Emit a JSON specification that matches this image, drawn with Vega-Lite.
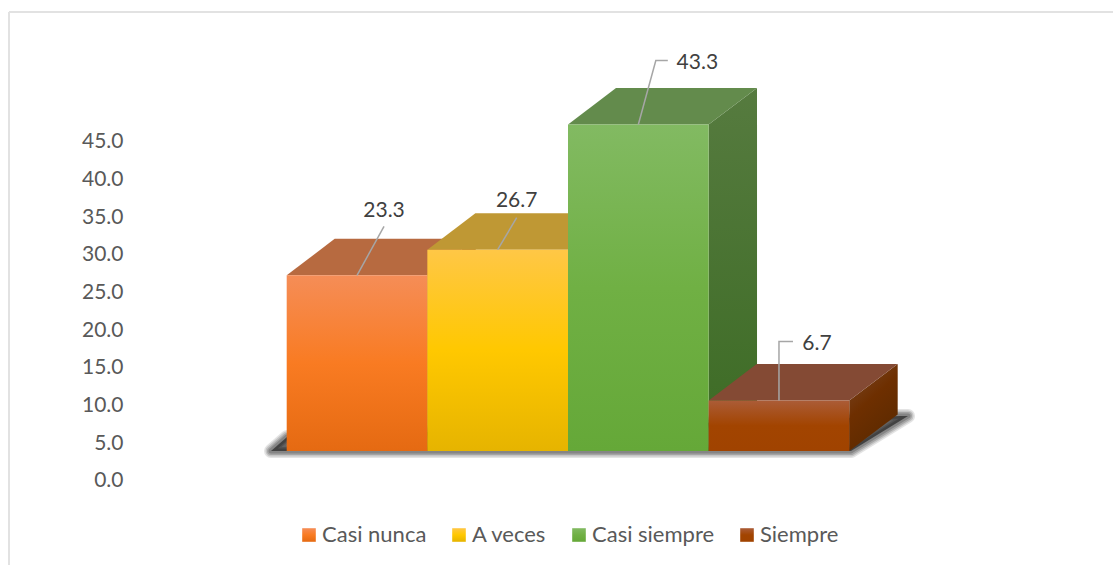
{"$schema":"https://vega.github.io/schema/vega-lite/v6.json","width":1104,"height":553,"autosize":"none","padding":{"left":9,"top":12,"right":0,"bottom":0},"background":"white","config":{"view":{"stroke":null},"font":"Lato"},
"data":{"values":[{"categoria":"Casi nunca","valor":23.3},{"categoria":"A veces","valor":26.7},{"categoria":"Casi siempre","valor":43.3},{"categoria":"Siempre","valor":6.7}]},
"resolve":{"scale":{"fill":"independent","shape":"independent"}},
"layer":[
{"mark":{"type":"rule","color":"#E2E2E2","strokeWidth":1.5},"encoding":{"x":{"value":0}}},
{"mark":{"type":"rule","color":"#E2E2E2","strokeWidth":1.5},"encoding":{"y":{"value":0}}},
{"transform":[{"filter":"datum.categoria==='Casi nunca'"}],"mark":{"type":"point","filled":false,"size":4,"opacity":0.1,"stroke":"#000","strokeWidth":14,"strokeJoin":"round","yOffset":-28.5,"shape":"M-86,0 L-70,-14 L543,-35 L551,-35 L494,0 Z"},"encoding":{"x":{"field":"categoria","type":"nominal","sort":null,"axis":null,"scale":{"domain":["Casi nunca","A veces","Casi siempre","Siempre"],"range":[277.7,840.3],"paddingInner":0,"paddingOuter":0}},"y":{"datum":0,"type":"quantitative","scale":{"domain":[-11.34,62],"nice":false,"zero":false}}}},
{"transform":[{"filter":"datum.categoria==='Casi nunca'"}],"mark":{"type":"point","filled":false,"size":4,"opacity":0.13,"stroke":"#000","strokeWidth":11,"strokeJoin":"round","yOffset":-28.5,"shape":"M-86,0 L-70,-14 L543,-35 L551,-35 L494,0 Z"},"encoding":{"x":{"field":"categoria","type":"nominal","sort":null,"axis":null,"scale":{"domain":["Casi nunca","A veces","Casi siempre","Siempre"],"range":[277.7,840.3],"paddingInner":0,"paddingOuter":0}},"y":{"datum":0,"type":"quantitative","scale":{"domain":[-11.34,62],"nice":false,"zero":false}}}},
{"transform":[{"filter":"datum.categoria==='Casi nunca'"}],"mark":{"type":"point","filled":false,"size":4,"opacity":0.16,"stroke":"#000","strokeWidth":8,"strokeJoin":"round","yOffset":-28.5,"shape":"M-86,0 L-70,-14 L543,-35 L551,-35 L494,0 Z"},"encoding":{"x":{"field":"categoria","type":"nominal","sort":null,"axis":null,"scale":{"domain":["Casi nunca","A veces","Casi siempre","Siempre"],"range":[277.7,840.3],"paddingInner":0,"paddingOuter":0}},"y":{"datum":0,"type":"quantitative","scale":{"domain":[-11.34,62],"nice":false,"zero":false}}}},
{"transform":[{"filter":"datum.categoria==='Casi nunca'"}],"mark":{"type":"point","filled":false,"size":4,"opacity":0.18,"stroke":"#000","strokeWidth":5,"strokeJoin":"round","yOffset":-28.5,"shape":"M-86,0 L-70,-14 L543,-35 L551,-35 L494,0 Z"},"encoding":{"x":{"field":"categoria","type":"nominal","sort":null,"axis":null,"scale":{"domain":["Casi nunca","A veces","Casi siempre","Siempre"],"range":[277.7,840.3],"paddingInner":0,"paddingOuter":0}},"y":{"datum":0,"type":"quantitative","scale":{"domain":[-11.34,62],"nice":false,"zero":false}}}},
{"transform":[{"filter":"datum.categoria==='Casi nunca'"}],"mark":{"type":"point","filled":true,"size":4,"opacity":0.5,"fill":"#000","strokeWidth":0,"yOffset":-28.5,"shape":"M-86,0 L-70,-14 L543,-35 L551,-35 L494,0 Z"},"encoding":{"x":{"field":"categoria","type":"nominal","sort":null,"axis":null,"scale":{"domain":["Casi nunca","A veces","Casi siempre","Siempre"],"range":[277.7,840.3],"paddingInner":0,"paddingOuter":0}},"y":{"datum":0,"type":"quantitative","scale":{"domain":[-11.34,62],"nice":false,"zero":false}}}},
{"mark":{"type":"point","filled":true,"size":4,"opacity":1,"strokeWidth":0,"yOffset":-28.5},"encoding":{"x":{"field":"categoria","type":"nominal","sort":null,"axis":null,"scale":{"domain":["Casi nunca","A veces","Casi siempre","Siempre"],"range":[277.7,840.3],"paddingInner":0,"paddingOuter":0}},"y":{"field":"valor","type":"quantitative","scale":{"domain":[-11.34,62],"nice":false,"zero":false}},
"shape":{"field":"categoria","type":"nominal","sort":null,"legend":null,"scale":{"domain":["Casi nunca","A veces","Casi siempre","Siempre"],"range":["M70.3,0 L118.7,-36.5 L118.7,139.2 L70.3,175.7 Z","M70.3,0 L118.7,-36.5 L118.7,164.8 L70.3,201.3 Z","M70.3,0 L118.7,-36.5 L118.7,290 L70.3,326.5 Z","M70.3,0 L118.7,-36.5 L118.7,14 L70.3,50.5 Z"]}},
"fill":{"field":"categoria","type":"nominal","sort":null,"legend":null,"scale":{"domain":["Casi nunca","A veces","Casi siempre","Siempre"],"range":[
{"expr":"{gradient:'linear',x1:0,y1:0,x2:1,y2:1,stops:[{offset:0,color:'#A0562A'},{offset:1,color:'#99470D'}]}"},
{"expr":"{gradient:'linear',x1:0,y1:0,x2:1,y2:1,stops:[{offset:0,color:'#A88530'},{offset:1,color:'#A07C00'}]}"},
{"expr":"{gradient:'linear',x1:0,y1:0,x2:0,y2:1,stops:[{offset:0,color:'#567B3F'},{offset:1,color:'#3C6B24'}]}"},
{"expr":"{gradient:'linear',x1:0,y1:0,x2:0.5,y2:1,stops:[{offset:0,color:'#7A4A2C'},{offset:0.5,color:'#6E2F00'},{offset:1,color:'#5C2A00'}]}"}]}}}},
{"mark":{"type":"point","filled":true,"size":4,"opacity":1,"strokeWidth":0,"yOffset":-28.5,"shape":"M-70.3,0 L70.3,0 L118.7,-36.5 L-22.3,-36.5 Z"},"encoding":{"x":{"field":"categoria","type":"nominal","sort":null,"axis":null,"scale":{"domain":["Casi nunca","A veces","Casi siempre","Siempre"],"range":[277.7,840.3],"paddingInner":0,"paddingOuter":0}},"y":{"field":"valor","type":"quantitative","scale":{"domain":[-11.34,62],"nice":false,"zero":false}},
"fill":{"field":"categoria","type":"nominal","sort":null,"legend":null,"scale":{"domain":["Casi nunca","A veces","Casi siempre","Siempre"],"range":["#B76A40","#BF9834","#638B4C","#844A34"]}}}},
{"mark":{"type":"bar","yOffset":-28.5,"y2Offset":-28.5},"encoding":{"x":{"field":"categoria","type":"nominal","sort":null,"axis":null,"scale":{"domain":["Casi nunca","A veces","Casi siempre","Siempre"],"range":[277.7,840.3],"paddingInner":0,"paddingOuter":0}},"y":{"field":"valor","type":"quantitative","stack":null,"scale":{"domain":[-11.34,62],"nice":false,"zero":false},"axis":{"title":null,"values":[0,5,10,15,20,25,30,35,40,45],"format":".1f","domain":false,"ticks":false,"grid":false,"labelPadding":0,"offset":-114,"labelOffset":1.5,"labelFont":"Lato","labelFontSize":21,"labelColor":"#595959"}},"y2":{"datum":0},
"fill":{"field":"categoria","type":"nominal","sort":null,"scale":{"domain":["Casi nunca","A veces","Casi siempre","Siempre"],"range":[
{"expr":"{gradient:'linear',x1:0,y1:0,x2:0,y2:1,stops:[{offset:0,color:'#F58D57'},{offset:0.5,color:'#F97B22'},{offset:1,color:'#E56A12'}]}"},
{"expr":"{gradient:'linear',x1:0,y1:0,x2:0,y2:1,stops:[{offset:0,color:'#FFC746'},{offset:0.5,color:'#FFC800'},{offset:1,color:'#E6B400'}]}"},
{"expr":"{gradient:'linear',x1:0,y1:0,x2:0,y2:1,stops:[{offset:0,color:'#82BA62'},{offset:0.5,color:'#70B044'},{offset:1,color:'#65A838'}]}"},
{"expr":"{gradient:'linear',x1:0,y1:0,x2:0,y2:1,stops:[{offset:0,color:'#AB5C37'},{offset:0.5,color:'#A24400'},{offset:1,color:'#A04300'}]}"}]},
"legend":{"title":null,"orient":"none","legendX":289,"legendY":512,"direction":"horizontal","columns":4,"padding":0,"symbolType":"square","symbolSize":185,"symbolStrokeWidth":0,"labelFont":"Lato","labelFontSize":22,"labelColor":"#595959","labelOffset":2,"columnPadding":21}}}},
{"mark":{"type":"point","filled":false,"size":4,"opacity":1,"stroke":"#A6A6A6","strokeWidth":1.5,"yOffset":-28.5},"encoding":{"x":{"field":"categoria","type":"nominal","sort":null,"axis":null,"scale":{"domain":["Casi nunca","A veces","Casi siempre","Siempre"],"range":[277.7,840.3],"paddingInner":0,"paddingOuter":0}},"y":{"field":"valor","type":"quantitative","scale":{"domain":[-11.34,62],"nice":false,"zero":false}},
"shape":{"field":"categoria","type":"nominal","sort":null,"legend":null,"scale":{"domain":["Casi nunca","A veces","Casi siempre","Siempre"],"range":["M0,0 L27,-49","M0,0 L19,-32","M0,0 L17.5,-64 L29.5,-64","M0,0 L0,-59 L14,-59"]}}}},
{"transform":[{"filter":"datum.categoria==='Casi nunca'"}],"mark":{"type":"text","font":"Lato","fontSize":21,"color":"#404040","yOffset":-28.5,"dx":27,"dy":-64.5},"encoding":{"x":{"field":"categoria","type":"nominal","sort":null,"axis":null,"scale":{"domain":["Casi nunca","A veces","Casi siempre","Siempre"],"range":[277.7,840.3],"paddingInner":0,"paddingOuter":0}},"y":{"field":"valor","type":"quantitative","scale":{"domain":[-11.34,62],"nice":false,"zero":false}},"text":{"field":"valor","type":"quantitative","format":".1f"}}},
{"transform":[{"filter":"datum.categoria==='A veces'"}],"mark":{"type":"text","font":"Lato","fontSize":21,"color":"#404040","yOffset":-28.5,"dx":19,"dy":-48.5},"encoding":{"x":{"field":"categoria","type":"nominal","sort":null,"axis":null,"scale":{"domain":["Casi nunca","A veces","Casi siempre","Siempre"],"range":[277.7,840.3],"paddingInner":0,"paddingOuter":0}},"y":{"field":"valor","type":"quantitative","scale":{"domain":[-11.34,62],"nice":false,"zero":false}},"text":{"field":"valor","type":"quantitative","format":".1f"}}},
{"transform":[{"filter":"datum.categoria==='Casi siempre'"}],"mark":{"type":"text","font":"Lato","fontSize":21,"color":"#404040","yOffset":-28.5,"dx":59,"dy":-62},"encoding":{"x":{"field":"categoria","type":"nominal","sort":null,"axis":null,"scale":{"domain":["Casi nunca","A veces","Casi siempre","Siempre"],"range":[277.7,840.3],"paddingInner":0,"paddingOuter":0}},"y":{"field":"valor","type":"quantitative","scale":{"domain":[-11.34,62],"nice":false,"zero":false}},"text":{"field":"valor","type":"quantitative","format":".1f"}}},
{"transform":[{"filter":"datum.categoria==='Siempre'"}],"mark":{"type":"text","font":"Lato","fontSize":21,"color":"#404040","yOffset":-28.5,"dx":38,"dy":-56},"encoding":{"x":{"field":"categoria","type":"nominal","sort":null,"axis":null,"scale":{"domain":["Casi nunca","A veces","Casi siempre","Siempre"],"range":[277.7,840.3],"paddingInner":0,"paddingOuter":0}},"y":{"field":"valor","type":"quantitative","scale":{"domain":[-11.34,62],"nice":false,"zero":false}},"text":{"field":"valor","type":"quantitative","format":".1f"}}}
]}
